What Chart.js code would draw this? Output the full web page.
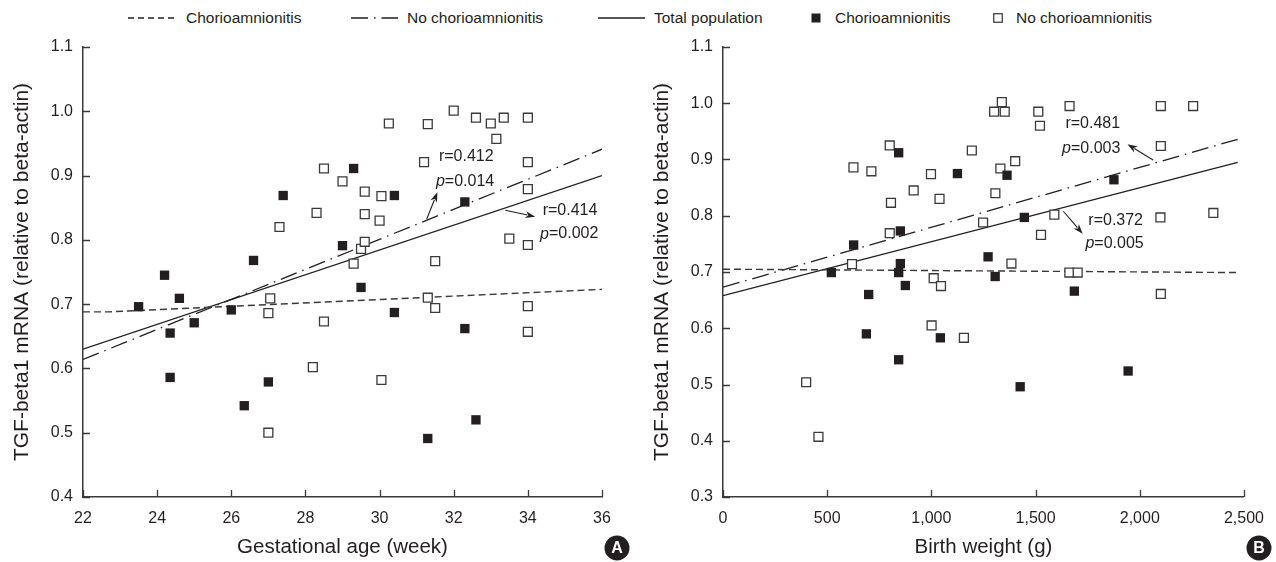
<!DOCTYPE html>
<html>
<head>
<meta charset="utf-8">
<script src="https://cdn.jsdelivr.net/npm/chart.js@4.4.1/dist/chart.umd.min.js"></script>
<style>
    body { margin: 0; background: #fff; width: 1276px; height: 562px; overflow: hidden; position: relative;
           font-family: "Liberation Sans", Arial, sans-serif; color: #231f20; }
    .li { position: absolute; top: 8px; height: 20px; font-size: 15.5px; line-height: 20px; white-space: nowrap; }
    .li svg { position: absolute; top: 0; }
    #boxA { position: absolute; left: 0; top: 0; }
    #boxB { position: absolute; left: 640px; top: 0; }
</style>
</head>
<body>
<div class="li" style="left:128px"><svg width="48" height="20"><line x1="0" y1="10" x2="48" y2="10" stroke="#231f20" stroke-width="1.3" stroke-dasharray="6,4"/></svg></div>
<div class="li" style="left:186px">Chorioamnionitis</div>
<div class="li" style="left:351px"><svg width="47" height="20"><line x1="0" y1="10" x2="47" y2="10" stroke="#231f20" stroke-width="1.3" stroke-dasharray="17,6,1.5,6"/></svg></div>
<div class="li" style="left:407px">No chorioamnionitis</div>
<div class="li" style="left:598px"><svg width="47" height="20"><line x1="0" y1="10" x2="47" y2="10" stroke="#231f20" stroke-width="1.3"/></svg></div>
<div class="li" style="left:654px">Total population</div>
<div class="li" style="left:811px"><svg width="10" height="20"><rect x="0.5" y="5.5" width="9" height="9" fill="#231f20"/></svg></div>
<div class="li" style="left:835px">Chorioamnionitis</div>
<div class="li" style="left:993px"><svg width="10" height="20"><rect x="0.75" y="5.75" width="8.5" height="8.5" fill="#fff" stroke="#333" stroke-width="1.2"/></svg></div>
<div class="li" style="left:1016px">No chorioamnionitis</div>

<canvas id="boxA" width="640" height="562"></canvas>
<canvas id="boxB" width="636" height="562"></canvas>

<script>
// ---- panel A: gestational age (week) vs TGF-beta1 ----
const gaChorio = [23.5, 24.2, 24.35, 24.35, 24.6, 25.0, 26.0, 26.35, 26.6, 27.0, 27.4, 29.0, 29.3, 29.5, 30.4, 30.4, 31.3, 32.3, 32.3, 32.6];
const tgfGaChorio = [0.696, 0.745, 0.655, 0.586, 0.709, 0.671, 0.691, 0.542, 0.768, 0.579, 0.869, 0.791, 0.911, 0.726, 0.869, 0.687, 0.491, 0.859, 0.662, 0.520];
const gaNoChorio = [27.0, 27.0, 27.05, 27.3, 28.2, 28.3, 28.5, 28.5, 29.0, 29.3, 29.5, 29.6, 29.6, 29.6, 30.0, 30.05, 30.05, 30.25, 31.2, 31.3, 31.3, 31.5, 31.5, 32.0, 32.6, 33.0, 33.15, 33.35, 33.5, 34.0, 34.0, 34.0, 34.0, 34.0, 34.0];
const tgfGaNoChorio = [0.500, 0.686, 0.709, 0.820, 0.602, 0.842, 0.911, 0.673, 0.891, 0.763, 0.786, 0.797, 0.840, 0.875, 0.830, 0.868, 0.582, 0.981, 0.921, 0.980, 0.710, 0.767, 0.694, 1.001, 0.990, 0.981, 0.957, 0.990, 0.802, 0.990, 0.921, 0.879, 0.792, 0.697, 0.657];

// regression lines
const gaFitChorioX = [22, 22.7, 36];
const gaFitChorioY = [0.688, 0.688, 0.723];
const gaFitNoChorioX = [22, 36];
const gaFitNoChorioY = [0.614, 0.941];
const gaFitTotalX = [22, 36];
const gaFitTotalY = [0.630, 0.900];

// ---- panel B: birth weight (g) vs TGF-beta1 ----
const bwChorio = [520, 627, 688, 699, 843, 843, 843, 851, 851, 875, 1043, 1125, 1272, 1306, 1363, 1426, 1446, 1686, 1876, 1944];
const tgfBwChorio = [0.699, 0.748, 0.590, 0.660, 0.699, 0.544, 0.912, 0.773, 0.715, 0.676, 0.583, 0.875, 0.727, 0.692, 0.872, 0.496, 0.797, 0.666, 0.864, 0.524];
const bwNoChorio = [399, 458, 619, 626, 712, 800, 800, 806, 915, 998, 1001, 1011, 1039, 1046, 1156, 1194, 1248, 1301, 1307, 1331, 1338, 1352, 1384, 1402, 1513, 1521, 1526, 1590, 1662, 1663, 1702, 2099, 2101, 2101, 2101, 2256, 2353];
const tgfBwNoChorio = [0.504, 0.407, 0.714, 0.886, 0.879, 0.925, 0.769, 0.823, 0.845, 0.874, 0.605, 0.689, 0.830, 0.675, 0.583, 0.916, 0.788, 0.985, 0.840, 0.884, 1.002, 0.985, 0.715, 0.897, 0.985, 0.960, 0.766, 0.802, 0.699, 0.995, 0.699, 0.797, 0.995, 0.924, 0.661, 0.995, 0.805];

const bwFitChorioX = [0, 2470];
const bwFitChorioY = [0.705, 0.699];
const bwFitNoChorioX = [0, 2470];
const bwFitNoChorioY = [0.673, 0.936];
const bwFitTotalX = [0, 2470];
const bwFitTotalY = [0.658, 0.895];

const ink = '#231f20';
const fontFam = '"Liberation Sans", Arial, sans-serif';

function pts(xs, ys) {
    return xs.map((x, i) => ({ x: x, y: ys[i] }));
}

// inward tick marks, r/p notes with arrows, panel badge
const decorations = {
    id: 'decorations',
    afterDraw(chart, args, opts) {
        const ctx = chart.ctx;
        const xs = chart.scales.x;
        const ys = chart.scales.y;
        const area = chart.chartArea;
        ctx.save();
        ctx.strokeStyle = '#3a3a3a';
        ctx.lineWidth = 1.3;
        ctx.beginPath();
        ys.ticks.forEach(t => {
            const py = Math.round(ys.getPixelForValue(t.value)) + 0.5;
            ctx.moveTo(area.left, py);
            ctx.lineTo(area.left + 7, py);
        });
        xs.ticks.forEach(t => {
            const px = Math.round(xs.getPixelForValue(t.value)) + 0.5;
            ctx.moveTo(px, area.bottom);
            ctx.lineTo(px, area.bottom - 7);
        });
        ctx.stroke();

        // notes
        ctx.fillStyle = ink;
        ctx.textBaseline = 'middle';
        ctx.textAlign = 'left';
        opts.notes.forEach(n => {
            let px = xs.getPixelForValue(n.x);
            const py = ys.getPixelForValue(n.y);
            if (n.italic) {
                ctx.font = 'italic 16px ' + fontFam;
                ctx.fillText(n.italic, px, py);
                px += ctx.measureText(n.italic).width;
            }
            ctx.font = '16px ' + fontFam;
            ctx.fillText(n.text, px, py);
        });

        // arrows
        ctx.strokeStyle = ink;
        ctx.lineWidth = 1.1;
        opts.arrows.forEach(a => {
            const x0 = xs.getPixelForValue(a.from[0]), y0 = ys.getPixelForValue(a.from[1]);
            const x1 = xs.getPixelForValue(a.to[0]), y1 = ys.getPixelForValue(a.to[1]);
            const ang = Math.atan2(y1 - y0, x1 - x0);
            const hl = 10, hw = 3.5;
            ctx.beginPath();
            ctx.moveTo(x0, y0);
            ctx.lineTo(x1 - Math.cos(ang) * hl * 0.8, y1 - Math.sin(ang) * hl * 0.8);
            ctx.stroke();
            ctx.beginPath();
            ctx.moveTo(x1, y1);
            ctx.lineTo(x1 - Math.cos(ang) * hl - Math.sin(ang) * hw, y1 - Math.sin(ang) * hl + Math.cos(ang) * hw);
            ctx.lineTo(x1 - Math.cos(ang) * hl * 0.7, y1 - Math.sin(ang) * hl * 0.7);
            ctx.lineTo(x1 - Math.cos(ang) * hl + Math.sin(ang) * hw, y1 - Math.sin(ang) * hl - Math.cos(ang) * hw);
            ctx.closePath();
            ctx.fill();
        });

        // badge
        const bx = area.right + 15, by = 548;
        ctx.beginPath();
        ctx.arc(bx, by, 12.5, 0, Math.PI * 2);
        ctx.fill();
        ctx.fillStyle = '#fff';
        ctx.font = 'bold 16px ' + fontFam;
        ctx.textAlign = 'center';
        ctx.fillText(opts.badge, bx, by + 1);
        ctx.restore();
    }
};

function makePanel(id, cfg) {
    return new Chart(document.getElementById(id), {
        type: 'scatter',
        data: {
            datasets: [
                {
                    label: 'Chorioamnionitis',
                    data: pts(cfg.chorioX, cfg.chorioY),
                    pointStyle: 'rect',
                    pointRadius: 6.6,
                    backgroundColor: ink,
                    borderWidth: 0
                },
                {
                    label: 'No chorioamnionitis',
                    data: pts(cfg.noChorioX, cfg.noChorioY),
                    pointStyle: 'rect',
                    pointRadius: 6.3,
                    backgroundColor: '#fff',
                    borderColor: '#3a3a3a',
                    borderWidth: 1.3
                },
                {
                    label: 'Chorioamnionitis fit',
                    data: pts(cfg.fitChorioX, cfg.fitChorioY),
                    showLine: true,
                    pointRadius: 0,
                    borderColor: '#3a3a3a',
                    borderWidth: 1.4,
                    borderDash: [7, 4]
                },
                {
                    label: 'No chorioamnionitis fit',
                    data: pts(cfg.fitNoChorioX, cfg.fitNoChorioY),
                    showLine: true,
                    pointRadius: 0,
                    borderColor: ink,
                    borderWidth: 1.3,
                    borderDash: [17, 6, 1.5, 6]
                },
                {
                    label: 'Total population fit',
                    data: pts(cfg.fitTotalX, cfg.fitTotalY),
                    showLine: true,
                    pointRadius: 0,
                    borderColor: ink,
                    borderWidth: 1.4
                }
            ]
        },
        options: {
            responsive: false,
            animation: false,
            layout: { padding: { top: 47, right: cfg.padRight, bottom: 0, left: 0 } },
            plugins: {
                legend: { display: false },
                tooltip: { enabled: false },
                decorations: { notes: cfg.notes, arrows: cfg.arrows, badge: cfg.badge }
            },
            scales: {
                x: {
                    type: 'linear',
                    min: cfg.xMin,
                    max: cfg.xMax,
                    afterFit(scale) { scale.height = 65; },
                    grid: { drawOnChartArea: false, drawTicks: false },
                    border: { display: true, color: '#3a3a3a', width: 1.5 },
                    ticks: {
                        stepSize: cfg.xStep,
                        padding: 12,
                        color: ink,
                        font: { family: fontFam, size: 16 },
                        callback: cfg.xFormat
                    },
                    title: {
                        display: true,
                        text: cfg.xTitle,
                        color: ink,
                        font: { family: fontFam, size: 20.5 },
                        padding: { top: 0, bottom: 2 }
                    }
                },
                y: {
                    min: cfg.yMin,
                    max: 1.1,
                    afterFit(scale) { scale.width = 83; },
                    grid: { drawOnChartArea: false, drawTicks: false },
                    border: { display: true, color: '#3a3a3a', width: 1.5 },
                    ticks: {
                        stepSize: 0.1,
                        padding: 10,
                        color: ink,
                        font: { family: fontFam, size: 16 },
                        callback: v => v.toFixed(1)
                    },
                    title: {
                        display: true,
                        text: 'TGF-beta1 mRNA (relative to beta-actin)',
                        color: ink,
                        font: { family: fontFam, size: 21 },
                        padding: { top: 10, bottom: 0 }
                    }
                }
            }
        },
        plugins: [decorations]
    });
}

makePanel('boxA', {
    chorioX: gaChorio, chorioY: tgfGaChorio,
    noChorioX: gaNoChorio, noChorioY: tgfGaNoChorio,
    fitChorioX: gaFitChorioX, fitChorioY: gaFitChorioY,
    fitNoChorioX: gaFitNoChorioX, fitNoChorioY: gaFitNoChorioY,
    fitTotalX: gaFitTotalX, fitTotalY: gaFitTotalY,
    xMin: 22, xMax: 36, xStep: 2, yMin: 0.4, padRight: 38,
    xFormat: v => String(v),
    xTitle: 'Gestational age (week)',
    badge: 'A',
    notes: [
        { x: 31.6, y: 0.929, text: 'r=0.412' },
        { x: 31.52, y: 0.891, italic: 'p', text: '=0.014' },
        { x: 34.4, y: 0.846, text: 'r=0.414' },
        { x: 34.33, y: 0.809, italic: 'p', text: '=0.002' }
    ],
    arrows: [
        { from: [31.27, 0.832], to: [31.56, 0.874] },
        { from: [33.39, 0.846], to: [34.2, 0.836] }
    ]
});

makePanel('boxB', {
    chorioX: bwChorio, chorioY: tgfBwChorio,
    noChorioX: bwNoChorio, noChorioY: tgfBwNoChorio,
    fitChorioX: bwFitChorioX, fitChorioY: bwFitChorioY,
    fitNoChorioX: bwFitNoChorioX, fitNoChorioY: bwFitNoChorioY,
    fitTotalX: bwFitTotalX, fitTotalY: bwFitTotalY,
    xMin: 0, xMax: 2500, xStep: 500, yMin: 0.3, padRight: 31,
    xFormat: v => v.toLocaleString('en-US'),
    xTitle: 'Birth weight (g)',
    badge: 'B',
    notes: [
        { x: 1643, y: 0.963, text: 'r=0.481' },
        { x: 1627, y: 0.920, italic: 'p', text: '=0.003' },
        { x: 1753, y: 0.792, text: 'r=0.372' },
        { x: 1739, y: 0.750, italic: 'p', text: '=0.005' }
    ],
    arrows: [
        { from: [2064, 0.899], to: [1941, 0.927] },
        { from: [1633, 0.808], to: [1726, 0.768] }
    ]
});
</script>
</body>
</html>
